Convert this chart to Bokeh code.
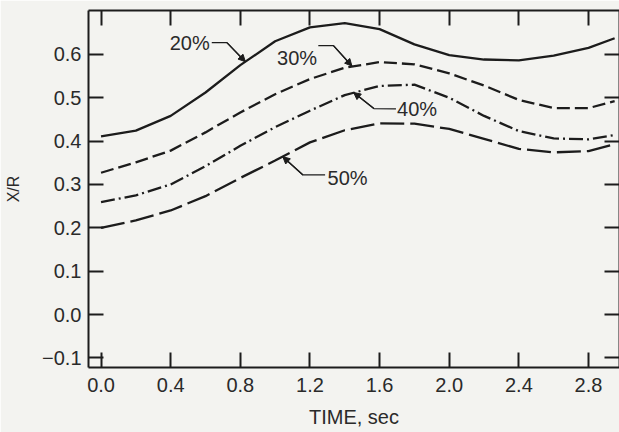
from bokeh.plotting import figure
from bokeh.models import LinearAxis, Range1d, FixedTicker, Label, Arrow, NormalHead, CustomLabelingPolicy
from bokeh.embed import file_html
from bokeh.resources import INLINE

# ---- data ----
time = [0.0, 0.2, 0.4, 0.6, 0.8, 1.0, 1.2, 1.4, 1.6, 1.8, 2.0, 2.2, 2.4, 2.6, 2.8, 2.95]
xr_20 = [0.411, 0.424, 0.458, 0.512, 0.575, 0.630, 0.662, 0.672, 0.658, 0.623, 0.598, 0.588, 0.586, 0.597, 0.615, 0.637]
xr_30 = [0.327, 0.351, 0.378, 0.420, 0.466, 0.508, 0.543, 0.569, 0.582, 0.577, 0.556, 0.528, 0.495, 0.476, 0.476, 0.492]
xr_40 = [0.259, 0.275, 0.300, 0.342, 0.389, 0.432, 0.470, 0.506, 0.527, 0.530, 0.500, 0.458, 0.423, 0.406, 0.404, 0.414]
xr_50 = [0.200, 0.217, 0.240, 0.273, 0.315, 0.355, 0.397, 0.425, 0.441, 0.440, 0.428, 0.405, 0.382, 0.374, 0.377, 0.393]

x_ticks = [0.0, 0.4, 0.8, 1.2, 1.6, 2.0, 2.4, 2.8]
x_tick_labels = ["0.0", "0.4", "0.8", "1.2", "1.6", "2.0", "2.4", "2.8"]
y_ticks = [-0.1, 0.0, 0.1, 0.2, 0.3, 0.4, 0.5, 0.6]
y_tick_labels = ["\u22120.1", "0.0", "0.1", "0.2", "0.3", "0.4", "0.5", "0.6"]

x_title = "TIME, sec"
y_title = "X/R"

# curve labels: text, label anchor, leader path (data coordinates)
curve_labels = ["20%", "30%", "40%", "50%"]
label_x = [0.509, 1.126, 1.815, 1.416]
label_y = [0.625, 0.592, 0.474, 0.314]
leader_x = [[0.636, 0.723, 0.829], [1.248, 1.335, 1.441], [1.694, 1.567, 1.451], [1.287, 1.160, 1.044]]
leader_y = [[0.627, 0.627, 0.583], [0.620, 0.620, 0.573], [0.474, 0.475, 0.512], [0.322, 0.322, 0.364]]

BG = "#f3f3f0"
INK = "#1c1c1c"
TXT = "#2a2a2a"
FONT = "Liberation Sans"

p = figure(width=619, height=432, output_backend="svg", toolbar_location=None,
           x_range=Range1d(-0.072, 2.978), y_range=Range1d(-0.122, 0.701),
           min_border_left=88, min_border_right=0, min_border_top=10, min_border_bottom=65,
           background_fill_color=BG, border_fill_color=BG, outline_line_color=None)
p.grid.visible = False

def style_axis(ax, ticks, labels, show):
    ax.ticker = FixedTicker(ticks=ticks)
    ax.major_tick_in = 15
    ax.major_tick_out = 0
    ax.minor_tick_in = 0
    ax.minor_tick_out = 0
    ax.minor_tick_line_color = None
    ax.axis_line_width = 2
    ax.axis_line_color = INK
    ax.major_tick_line_width = 2
    ax.major_tick_line_color = INK
    if show:
        ax.major_label_overrides = {t: l for t, l in zip(ticks, labels)}
        ax.major_label_text_font = FONT
        ax.major_label_text_font_size = "20px"
        ax.major_label_text_color = TXT
        ax.major_label_standoff = 10
    else:
        ax.major_label_overrides = {t: "" for t in ticks}
        ax.major_label_text_font_size = "1px"
        ax.major_label_standoff = 0
        ax.major_label_policy = CustomLabelingPolicy(code="if (false) { yield 0 }")

style_axis(p.xaxis[0], x_ticks, x_tick_labels, True)
style_axis(p.yaxis[0], y_ticks, y_tick_labels, True)
p.yaxis.major_label_standoff = 7
p.xaxis.axis_label = x_title
p.xaxis.axis_label_text_font = FONT
p.xaxis.axis_label_text_font_size = "20px"
p.xaxis.axis_label_text_font_style = "normal"
p.xaxis.axis_label_text_color = TXT
p.xaxis.axis_label_standoff = 11
p.yaxis.axis_label = y_title
p.yaxis.axis_label_text_font = FONT
p.yaxis.axis_label_text_font_size = "16px"
p.yaxis.axis_label_text_font_style = "normal"
p.yaxis.axis_label_text_color = TXT
p.yaxis.axis_label_standoff = 17

top = LinearAxis()
style_axis(top, x_ticks, x_tick_labels, False)
p.add_layout(top, "above")
right = LinearAxis()
style_axis(right, y_ticks, y_tick_labels, False)
p.add_layout(right, "right")

p.line(time, xr_20, line_color=INK, line_width=2.3)
p.line(time, xr_30, line_color=INK, line_width=2.3, line_dash="13 5")
p.line(time, xr_40, line_color=INK, line_width=2.3, line_dash="14 4 2 4")
p.line(time, xr_50, line_color=INK, line_width=2.3, line_dash="24 6")

for i, txt in enumerate(curve_labels):
    p.add_layout(Label(x=label_x[i], y=label_y[i], text=txt, text_font=FONT,
                       text_font_size="20px", text_color=TXT,
                       text_align="center", text_baseline="middle"))
    p.line(leader_x[i], leader_y[i], line_color=INK, line_width=1.3)
    p.add_layout(Arrow(x_start=leader_x[i][1], y_start=leader_y[i][1],
                       x_end=leader_x[i][2], y_end=leader_y[i][2],
                       line_color=INK, line_width=1.3,
                       end=NormalHead(size=7, fill_color=INK, line_color=INK, line_width=1)))

open("out.html", "w").write(file_html(p, INLINE))
